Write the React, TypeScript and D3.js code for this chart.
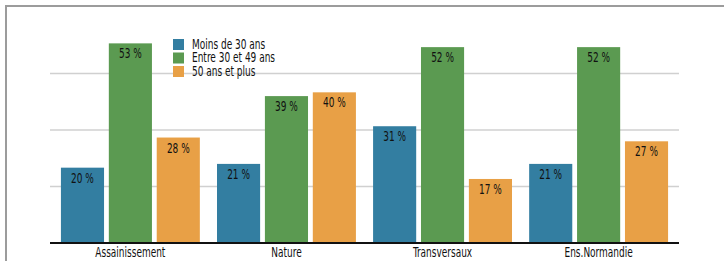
import React from "react";
import * as d3 from "d3";

const categories = ["Assainissement", "Nature", "Transversaux", "Ens.Normandie"];
const seriesNames = ["Moins de 30 ans", "Entre 30 et 49 ans", "50 ans et plus"];
const moins30 = [20, 21, 31, 21];
const entre30et49 = [53, 39, 52, 52];
const plus50 = [28, 40, 17, 27];
const gridTicks = [15, 30, 45];

const colors = ["#337ea1", "#5b9a51", "#e8a046"];
const font = "'DejaVu Sans Condensed', sans-serif";
const squeeze = 0.74;

// condensed text: scaled horizontally around its anchor point
const Label = ({ x, y, anchor = "start", size = 13.5, children }) => (
    <text
        transform={`translate(${x},${y}) scale(${squeeze},1)`}
        textAnchor={anchor}
        fontSize={size}
        fill="#111"
    >
        {children}
    </text>
);

const App = () => {
    const width = 724;
    const height = 261;
    const series = [moins30, entre30et49, plus50];

    const x0 = d3.scaleBand().domain(categories).range([50, 679]).paddingInner(0.11).paddingOuter(0.07);
    const x1 = d3.scaleBand().domain(seriesNames).range([0, x0.bandwidth()]).paddingInner(0.1);
    const y = d3.scaleLinear().domain([0, 60]).range([243, 17]);

    return (
        <svg width={width} height={height} style={{ position: "absolute", left: 0, top: 0 }} fontFamily={font}>
            <rect x={0} y={0} width={width} height={height} fill="#fff" />
            <path d={`M6,${height} V6 H${width}`} fill="none" stroke="#9c9c9c" strokeWidth={2} />
            {gridTicks.map(t => (
                <line key={t} x1={50} x2={679} y1={y(t)} y2={y(t)} stroke="#d0d0d0" strokeWidth={1.5} />
            ))}
            {categories.map((c, i) => (
                <g key={c} transform={`translate(${x0(c)},0)`}>
                    {seriesNames.map((s, j) => {
                        const v = series[j][i];
                        const bx = x1(s) as number;
                        return (
                            <g key={s}>
                                <rect x={bx} y={y(v)} width={x1.bandwidth()} height={y(0) - y(v)} fill={colors[j]} />
                                <Label x={bx + x1.bandwidth() / 2} y={y(v) + 15} anchor="middle">
                                    {v} %
                                </Label>
                            </g>
                        );
                    })}
                    <Label x={x0.bandwidth() / 2} y={257} anchor="middle">{c}</Label>
                </g>
            ))}
            <line x1={50} x2={679} y1={y(0)} y2={y(0)} stroke="#111" strokeWidth={2} />
            <g transform="translate(173,39)">
                {seriesNames.map((s, j) => (
                    <g key={s} transform={`translate(0,${j * 13.5})`}>
                        <rect x={0} y={0} width={11} height={11} fill={colors[j]} />
                        <Label x={19} y={9.5}>{s}</Label>
                    </g>
                ))}
            </g>
        </svg>
    );
};

export default App;
